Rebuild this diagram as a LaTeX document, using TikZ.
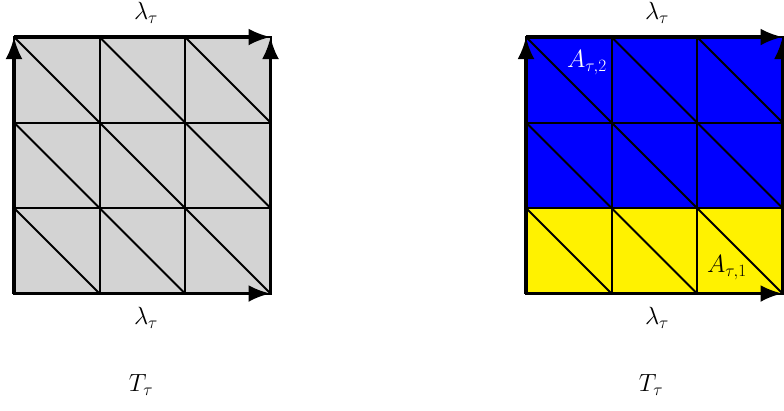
\documentclass[tikz,border=0pt]{standalone}
\usetikzlibrary{arrows.meta}
\definecolor{cellgray}{RGB}{211,211,211}
\begin{document}
\begin{tikzpicture}[x=1pt,y=-1pt,
  border/.style={line width=3.5pt,-{Latex[length=22pt,width=17pt]}},
  gridline/.style={line width=2pt},
  lab/.style={font=\fontsize{26}{30}\selectfont,inner sep=0pt}]
\useasboundingbox (0,0) rectangle (784,410);
\def\c{85.5}
% ---------- left square ----------
\begin{scope}[shift={(14,37)}]
  \fill[cellgray] (0,0) rectangle (3*\c,3*\c);
  \foreach \i in {0,1,2}{\foreach \j in {0,1,2}{
    \draw[gridline] (\i*\c,\j*\c) rectangle ({(\i+1)*\c},{(\j+1)*\c});
    \draw[gridline] (\i*\c,\j*\c) -- ({(\i+1)*\c},{(\j+1)*\c});
  }}
  \coordinate (LTL) at (0,0);
  \coordinate (LTR) at (3*\c,0);
  \coordinate (LBL) at (0,3*\c);
  \coordinate (LBR) at (3*\c,3*\c);
  \draw[border] (LBL) -- (LTL);
  \draw[border] (LTL) -- (LTR);
  \draw[border] (LBR) -- (LTR);
  \draw[border] (LBL) -- (LBR);
\end{scope}
\node[lab] (ltop) at (146,13) {$\lambda_\tau$};
\node[lab] (lbot) at (146,318) {$\lambda_\tau$};
\node[lab] (lT) at (141,385) {$T_\tau$};
% ---------- right square ----------
\begin{scope}[shift={(526,37)}]
  \fill[yellow] (0,2*\c) rectangle (3*\c,3*\c);
  \fill[blue] (0,0) rectangle (3*\c,2*\c);
  \foreach \i in {0,1,2}{\foreach \j in {0,1,2}{
    \draw[gridline] (\i*\c,\j*\c) rectangle ({(\i+1)*\c},{(\j+1)*\c});
    \draw[gridline] (\i*\c,\j*\c) -- ({(\i+1)*\c},{(\j+1)*\c});
  }}
  \coordinate (RTL) at (0,0);
  \coordinate (RTR) at (3*\c,0);
  \coordinate (RBL) at (0,3*\c);
  \coordinate (RBR) at (3*\c,3*\c);
  \draw[border] (RBL) -- (RTL);
  \draw[border] (RTL) -- (RTR);
  \draw[border] (RBR) -- (RTR);
  \draw[border] (RBL) -- (RBR);
  \node[lab,text=white] (A2) at (61,26) {$A_{\tau,2}$};
  \node[lab] (A1) at (201,231) {$A_{\tau,1}$};
\end{scope}
\node[lab] (rtop) at (657,13) {$\lambda_\tau$};
\node[lab] (rbot) at (657,318) {$\lambda_\tau$};
\node[lab] (rT) at (651,385) {$T_\tau$};
\end{tikzpicture}
\end{document}
